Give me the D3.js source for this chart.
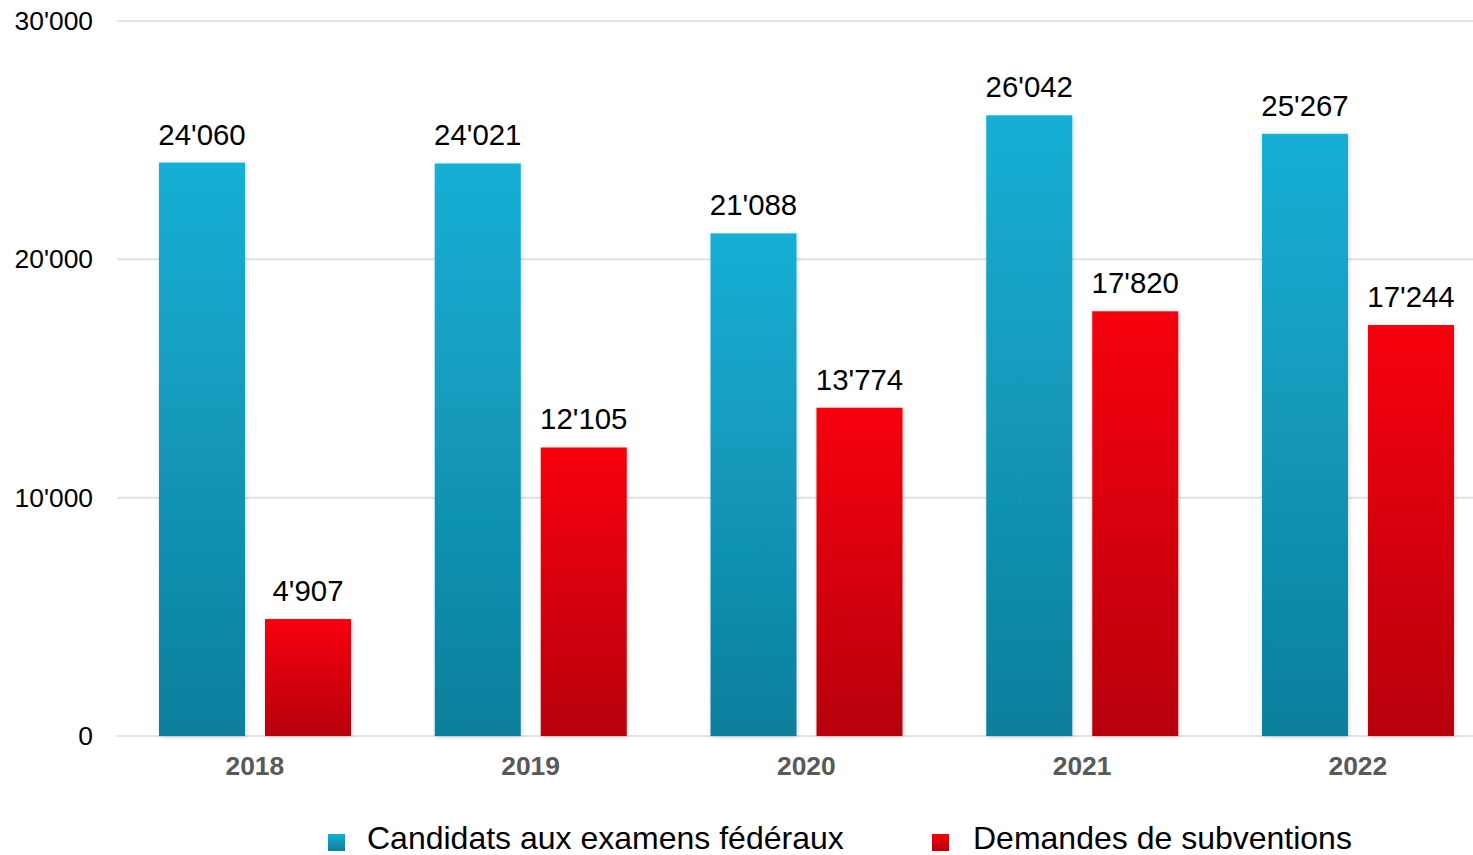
<!DOCTYPE html>
<html>
<head>
<meta charset="utf-8">
<script src="https://cdn.jsdelivr.net/npm/d3@7"></script>
<style>
  body { margin: 0; background: #fff; }
  svg { display: block; font-family: "Liberation Sans", Arial, sans-serif; }
</style>
</head>
<body>
<div id="chart"></div>
<script>
// candidats / demandes de subventions, 2018-2022

var years = ['2018', '2019', '2020', '2021', '2022'];
var series = ['Candidats aux examens fédéraux', 'Demandes de subventions'];
var candidats = [24060, 24021, 21088, 26042, 25267];
var demandes = [4907, 12105, 13774, 17820, 17244];
var yTicks = [0, 10000, 20000, 30000];

var width = 1473, height = 855;

var svg = d3.select('#chart').append('svg')
    .attr('width', width)
    .attr('height', height);

var defs = svg.append('defs');

function grad(id, top, bottom) {
    var g = defs.append('linearGradient')
        .attr('id', id)
        .attr('x1', 0).attr('x2', 0)
        .attr('y1', 0).attr('y2', 1);
    g.append('stop').attr('offset', '0%').attr('stop-color', top);
    g.append('stop').attr('offset', '100%').attr('stop-color', bottom);
}
grad('gBlue', '#15afd5', '#0f7f9c');
grad('gRed', '#f7000a', '#b70008');

var shadow = defs.append('filter')
    .attr('id', 'shadow')
    .attr('x', '-10%').attr('y', '-10%')
    .attr('width', '130%').attr('height', '120%');
shadow.append('feDropShadow')
    .attr('dx', 1).attr('dy', 1)
    .attr('stdDeviation', 2)
    .attr('flood-color', '#000')
    .attr('flood-opacity', 0.18);

var fmt = function(v) { return d3.format(',')(v).replace(/,/g, "'"); };

var x = d3.scaleBand()
    .domain(years)
    .range([117, 117 + 275.75 * 5]);

var xInner = d3.scaleOrdinal()
    .domain([0, 1])
    .range([42, 148]);
var barW = 86;

var y = d3.scaleLinear()
    .domain([0, 30000])
    .range([736, 21]);

// gridlines
svg.append('g')
    .selectAll('line')
    .data(yTicks)
    .enter()
    .append('line')
    .attr('x1', 117)
    .attr('x2', width)
    .attr('y1', function(d) { return y(d); })
    .attr('y2', function(d) { return y(d); })
    .attr('stroke', '#e3e3e3')
    .attr('stroke-width', 2);

// y axis labels
var yAxis = d3.axisLeft(y)
    .tickValues(yTicks)
    .tickFormat(fmt)
    .tickSize(0)
    .tickPadding(0);

svg.append('g')
    .attr('transform', 'translate(93,0)')
    .call(yAxis)
    .call(function(g) { g.select('.domain').remove(); })
    .selectAll('text')
    .attr('font-size', 26.4)
    .attr('font-family', '"Liberation Sans", Arial, sans-serif')
    .attr('fill', '#000');

// x axis labels
var xAxis = d3.axisBottom(x).tickSize(0).tickPadding(0);
svg.append('g')
    .attr('transform', 'translate(0,756)')
    .call(xAxis)
    .call(function(g) { g.select('.domain').remove(); })
    .selectAll('text')
    .attr('font-size', 26.4)
    .attr('font-weight', 'bold')
    .attr('font-family', '"Liberation Sans", Arial, sans-serif')
    .attr('fill', '#595959');

var rows = [];
years.forEach(function(yr, i) {
    rows.push({ year: yr, s: 0, v: candidats[i] });
    rows.push({ year: yr, s: 1, v: demandes[i] });
});

var bars = svg.append('g');

bars.selectAll('rect')
    .data(rows)
    .enter()
    .append('rect')
    .attr('x', function(d) { return x(d.year) + xInner(d.s); })
    .attr('y', function(d) { return y(d.v); })
    .attr('width', barW)
    .attr('height', function(d) { return y(0) - y(d.v); })
    .attr('fill', function(d) { return d.s === 0 ? 'url(#gBlue)' : 'url(#gRed)'; })
    .attr('filter', 'url(#shadow)');

bars.selectAll('text')
    .data(rows)
    .enter()
    .append('text')
    .attr('x', function(d) { return x(d.year) + xInner(d.s) + barW / 2; })
    .attr('y', function(d) { return y(d.v) - 18; })
    .attr('text-anchor', 'middle')
    .attr('font-size', 29.4)
    .attr('fill', '#000')
    .text(function(d) { return fmt(d.v); });

// legend
var legendX = [328, 932];
var legend = svg.append('g')
    .selectAll('g')
    .data(series)
    .enter()
    .append('g')
    .attr('transform', function(d, i) { return 'translate(' + legendX[i] + ',0)'; });

legend.append('rect')
    .attr('x', 0)
    .attr('y', 834)
    .attr('width', 17)
    .attr('height', 17)
    .attr('fill', function(d, i) { return i === 0 ? 'url(#gBlue)' : 'url(#gRed)'; });

legend.append('text')
    .attr('x', function(d, i) { return i === 0 ? 39 : 41; })
    .attr('y', 849)
    .attr('font-size', 32)
    .attr('fill', '#000')
    .text(function(d) { return d; });
</script>
</body>
</html>
